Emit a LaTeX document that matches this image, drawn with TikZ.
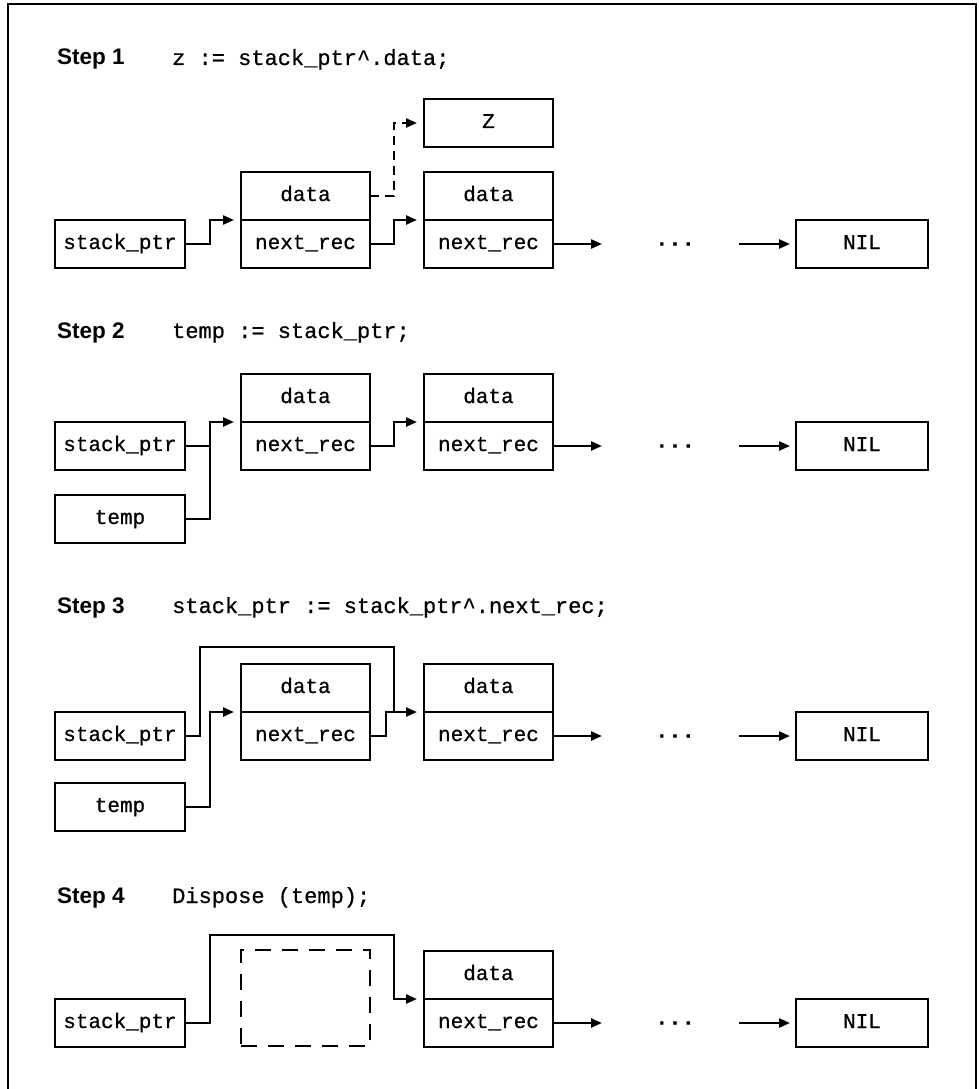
\documentclass[tikz,border=0pt]{standalone}
\usepackage{fontspec}
\setmonofont[FakeBold=0.6]{Liberation Mono}
\newfontfamily\headfont{Liberation Sans}
\usetikzlibrary{arrows.meta,calc}
\begin{document}
\begin{tikzpicture}[x=1pt,y=-1pt,
  box/.style={draw, line width=2.3pt, minimum width=130pt, minimum height=48pt, inner sep=0pt, outer sep=0pt,
    text height=14pt, text depth=4pt, font=\ttfamily\fontsize{21}{25}\selectfont},
  gonebox/.style={draw, line width=2.3pt, dash pattern=on 16pt off 11pt, minimum width=129pt, minimum height=96pt, inner sep=0pt, outer sep=0pt},
  arr/.style={line width=2.3pt, -{Triangle[length=11pt,width=9pt]}, shorten >=7pt},
  darr/.style={arr, dash pattern=on 9pt off 6pt},
  conn/.style={line width=2.3pt},
  title/.style={anchor=base west, inner sep=0pt, font=\headfont\bfseries\fontsize{22.5}{26}\selectfont},
  code/.style={anchor=base west, inner sep=0pt, font=\ttfamily\fontsize{22}{26}\selectfont},
  dots/.style={inner sep=0pt, font=\ttfamily\bfseries\fontsize{22}{26}\selectfont}]
\useasboundingbox (0,0) rectangle (979,1089);
\fill[white] (0,0) rectangle (979,1089);
\draw[line width=2.5pt] (8,1092) -- (8,4) -- (976,4) -- (976,1092);

% ---------------- Step 1 ----------------
\node[title] (t1) at (57,65) {Step 1};
\node[code] (c1) at (172,65) {z := stack\_ptr\textasciicircum.data;};
\node[box] (sp1) at (120,244) {stack\_ptr};
\node[box, minimum width=129pt] (a1d) at (305.5,196) {data};
\node[box, minimum width=129pt] (a1n) at (305.5,244) {next\_rec};
\node[box, minimum width=129pt] (b1d) at (488.5,196) {data};
\node[box, minimum width=129pt] (b1n) at (488.5,244) {next\_rec};
\node[box, minimum width=129pt] (z1) at (488.5,123) {Z};
\node[dots] (d1) at (675,244) {...};
\node[box, minimum width=132pt] (nil1) at (862,244) {NIL};
\draw[arr] (sp1.east) -- ++(25,0) |- (a1n.north west);
\draw[arr] (a1n.east) -- ++(24,0) |- (b1n.north west);
\draw[darr] (a1d.east) -- ++(24,0) |- (z1.west);
\draw[arr] (b1n.east) -- ++(56,0);
\draw[arr, shorten >=6pt] (nil1.west) ++(-57,0) -- (nil1.west);

% ---------------- Step 2 ----------------
\node[title] (t2) at (57,338) {Step 2};
\node[code] (c2) at (172,338) {temp := stack\_ptr;};
\node[box] (sp2) at (120,446) {stack\_ptr};
\node[box] (tp2) at (120,519) {temp};
\node[box, minimum width=129pt] (a2d) at (305.5,398) {data};
\node[box, minimum width=129pt] (a2n) at (305.5,446) {next\_rec};
\node[box, minimum width=129pt] (b2d) at (488.5,398) {data};
\node[box, minimum width=129pt] (b2n) at (488.5,446) {next\_rec};
\node[dots] (d2) at (675,446) {...};
\node[box, minimum width=132pt] (nil2) at (862,446) {NIL};
\draw[conn] (sp2.east) -- ++(25,0);
\draw[arr] (tp2.east) -- ++(25,0) |- (a2n.north west);
\draw[arr] (a2n.east) -- ++(24,0) |- (b2n.north west);
\draw[arr] (b2n.east) -- ++(56,0);
\draw[arr, shorten >=6pt] (nil2.west) ++(-57,0) -- (nil2.west);

% ---------------- Step 3 ----------------
\node[title] (t3) at (57,613) {Step 3};
\node[code] (c3) at (172,613) {stack\_ptr := stack\_ptr\textasciicircum.next\_rec;};
\node[box] (sp3) at (120,736) {stack\_ptr};
\node[box] (tp3) at (120,807) {temp};
\node[box, minimum width=129pt] (a3d) at (305.5,688) {data};
\node[box, minimum width=129pt] (a3n) at (305.5,736) {next\_rec};
\node[box, minimum width=129pt] (b3d) at (488.5,688) {data};
\node[box, minimum width=129pt] (b3n) at (488.5,736) {next\_rec};
\node[dots] (d3) at (675,736) {...};
\node[box, minimum width=132pt] (nil3) at (862,736) {NIL};
\coordinate (up3) at (394,647);
\coordinate (j3) at (394,712);
\draw[arr] (sp3.east) -- ++(15,0) |- (up3) -- (j3) -- (b3n.north west);
\draw[conn] (a3n.east) -- ++(16,0) |- (j3);
\draw[arr] (tp3.east) -- ++(25,0) |- (a3n.north west);
\draw[arr] (b3n.east) -- ++(56,0);
\draw[arr, shorten >=6pt] (nil3.west) ++(-57,0) -- (nil3.west);

% ---------------- Step 4 ----------------
\node[title] (t4) at (57,903) {Step 4};
\node[code] (c4) at (172,903) {Dispose (temp);};
\node[box] (sp4) at (120,1023) {stack\_ptr};
\node[gonebox] (g4) at (305.5,998) {};
\node[box, minimum width=129pt] (b4d) at (488.5,975) {data};
\node[box, minimum width=129pt] (b4n) at (488.5,1023) {next\_rec};
\node[dots] (d4) at (675,1023) {...};
\node[box, minimum width=132pt] (nil4) at (862,1023) {NIL};
\coordinate (up4) at (394,935);
\draw[arr] (sp4.east) -- ++(25,0) |- (up4) |- (b4n.north west);
\draw[arr] (b4n.east) -- ++(56,0);
\draw[arr, shorten >=6pt] (nil4.west) ++(-57,0) -- (nil4.west);
\end{tikzpicture}
\end{document}
